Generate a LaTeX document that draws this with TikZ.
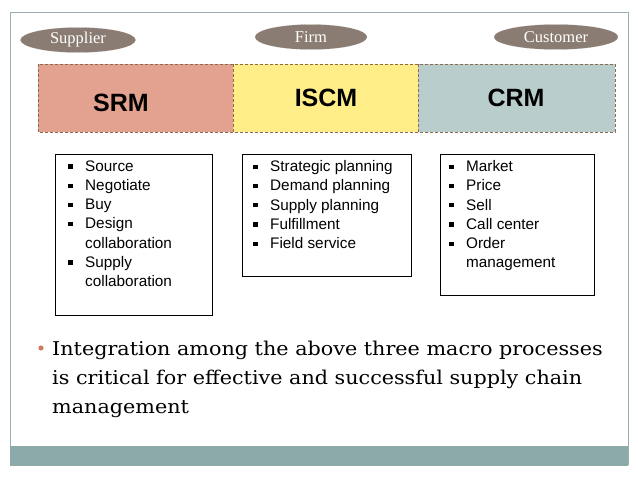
\documentclass[tikz,border=0pt]{standalone}
\usepackage{fontspec}
\usepackage{graphicx}
\setmainfont{Liberation Serif}
\setsansfont{Liberation Sans}
\newfontfamily\serifb{DejaVu Serif}
\definecolor{framec}{HTML}{9CB0B4}
\definecolor{bandc}{HTML}{8CAAAA}
\definecolor{ovalc}{HTML}{8A7C72}
\definecolor{srmc}{HTML}{E3A190}
\definecolor{iscmc}{HTML}{FFEE88}
\definecolor{crmc}{HTML}{B9CDCD}
\definecolor{dashc}{HTML}{8A6A50}
\definecolor{dotc}{HTML}{D07A5E}
\newcommand{\sqb}{\makebox[17pt][l]{\raisebox{2.7pt}{\rule{4.3pt}{4.3pt}}}}
\newcommand{\ind}{\hspace*{17pt}}
\tikzset{
  oval/.style={ellipse, fill=ovalc, draw=ovalc!80!white, densely dotted, minimum width=#1, minimum height=25pt, inner sep=0pt, font=\fontsize{16.5}{16.5}\selectfont, text=white},
  part/.style={draw=dashc, densely dashed, line width=0.6pt},
  plabel/.style={font=\sffamily\bfseries\fontsize{25}{25}\selectfont, inner sep=0pt},
  listbox/.style={draw=black, line width=0.8pt},
  listtext/.style={anchor=north west, inner sep=0pt, align=left, font=\sffamily\fontsize{15.3}{19.2}\selectfont},
  mainline/.style={anchor=base west, inner sep=0pt, font=\serifb\fontsize{19}{19}\selectfont}
}
\usetikzlibrary{shapes.geometric}
\begin{document}
\begin{tikzpicture}[x=1pt,y=-1pt]
\useasboundingbox (0,0) rectangle (638,479);
\fill[white] (0,0) rectangle (638,479);
% frame and band
\draw[framec, line width=1pt] (10,465) -- (10,12) -- (628,12) -- (628,465);
\fill[bandc] (10,446) rectangle (628,466);
% ovals
\node[oval=115pt] (sup) at (78,40) {Supplier};
\node[oval=112pt] (firm) at (311,37) {Firm};
\node[oval=124pt] (cust) at (556,37) {Customer};
% macro band
\fill[srmc] (38,64) rectangle (233,132);
\fill[iscmc] (233,64) rectangle (418,132);
\fill[crmc] (418,64) rectangle (615,132);
\draw[part] (38,64) rectangle (615,132);
\draw[part] (233,64) -- (233,132);
\draw[part] (418,64) -- (418,132);
\node[plabel] (srm) at (121,103) {SRM};
\node[plabel] (iscm) at (326,98) {ISCM};
\node[plabel] (crm) at (516,98) {CRM};
% boxes
\draw[listbox] (55,154) rectangle (212,315);
\draw[listbox] (242,154) rectangle (411,276);
\draw[listbox] (440,154) rectangle (594,295);
\node[listtext] (l1) at (68,160.5) {\sqb Source\\ \sqb Negotiate\\ \sqb Buy\\ \sqb Design\\ \ind collaboration\\ \sqb Supply\\ \ind collaboration};
\node[listtext] (l2) at (253,160.5) {\sqb Strategic planning\\ \sqb Demand planning\\ \sqb Supply planning\\ \sqb Fulfillment\\ \sqb Field service};
\node[listtext] (l3) at (449,160.5) {\sqb Market\\ \sqb Price\\ \sqb Sell\\ \sqb Call center\\ \sqb Order\\ \ind management};
% main bullet
\fill[dotc] (41,348) circle (2.6pt);
\node[mainline] (m1) at (52,355) {\scalebox{1.09}[1]{Integration among the above three macro processes}};
\node[mainline] (m2) at (52,384) {\scalebox{1.09}[1]{is critical for effective and successful supply chain}};
\node[mainline] (m3) at (52,413) {\scalebox{1.09}[1]{management}};
\end{tikzpicture}
\end{document}
